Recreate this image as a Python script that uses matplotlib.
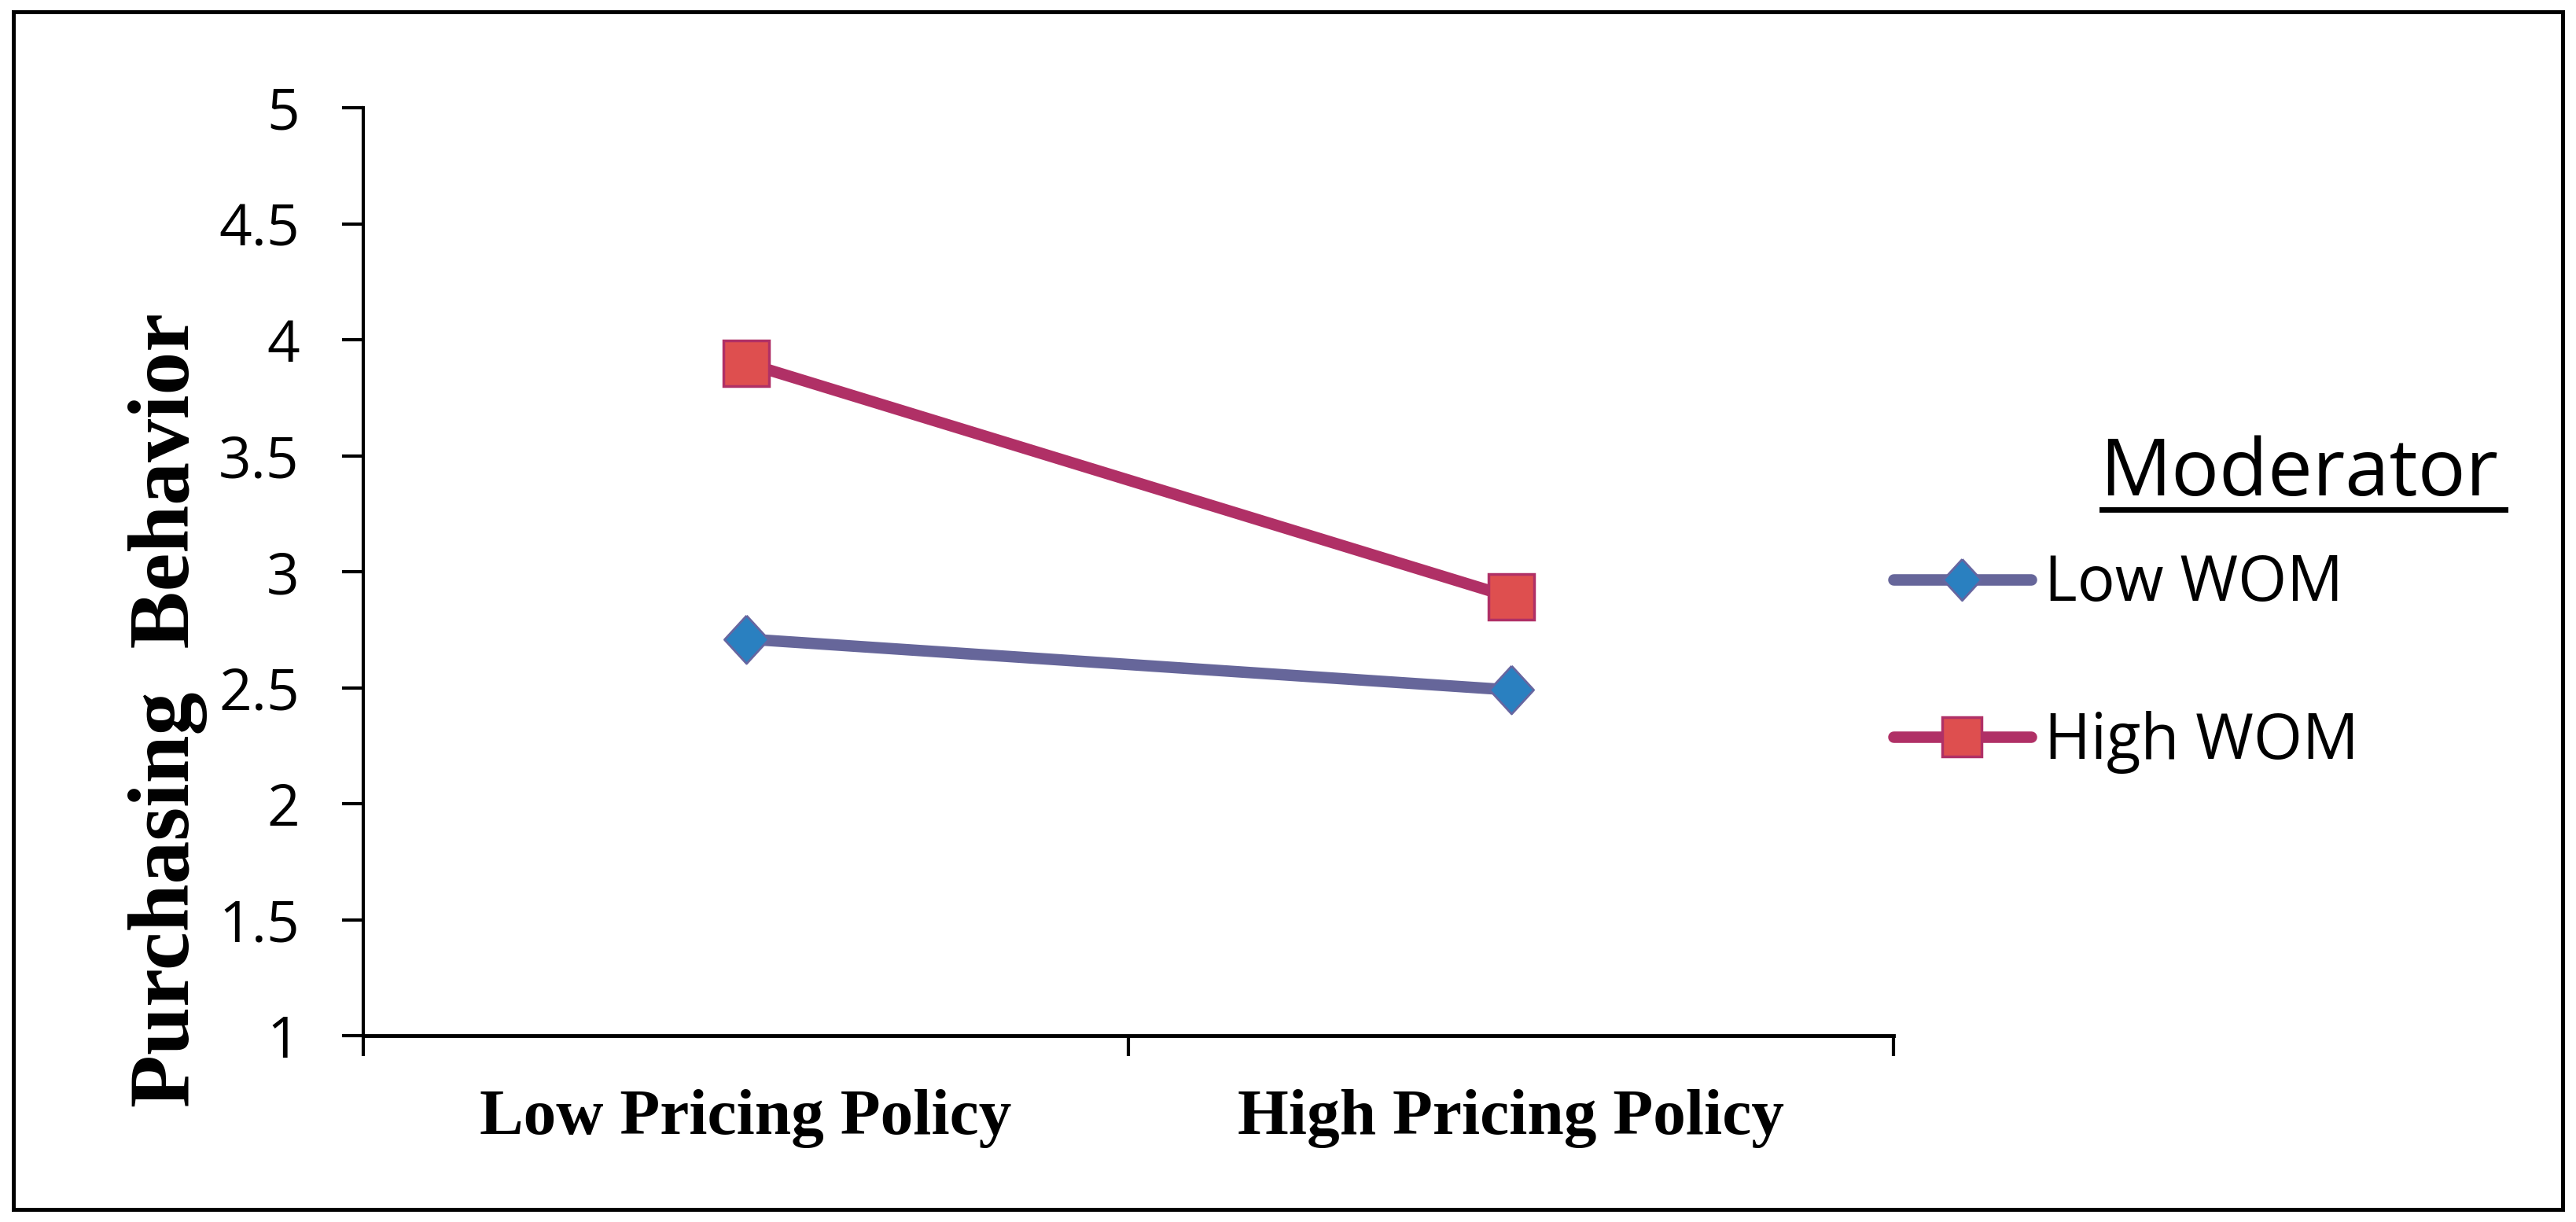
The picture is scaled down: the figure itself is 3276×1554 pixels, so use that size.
"""
Interaction plot: purchasing behavior by pricing policy, moderated by WOM.
"""

import matplotlib
matplotlib.use("Agg")
import matplotlib.pyplot as plt
from matplotlib.lines import Line2D
from matplotlib.patches import Rectangle

# data
categories = ["Low Pricing Policy", "High Pricing Policy"]
low_wom = [2.71, 2.49]
high_wom = [3.90, 2.89]
series_names = ["Low WOM", "High WOM"]
y_ticks = [1, 1.5, 2, 2.5, 3, 3.5, 4, 4.5, 5]
y_tick_labels = ["1", "1.5", "2", "2.5", "3", "3.5", "4", "4.5", "5"]

W, H = 3276, 1554
fig = plt.figure(figsize=(W / 100, H / 100), dpi=100)

# axes box in pixel terms (left, top, right, bottom)
L, T, R, B = 462, 137, 2408, 1317
ax = fig.add_axes([L / W, 1 - B / H, (R - L) / W, (B - T) / H])

xpos = [0.5, 1.5]
diamond = [(0, 1), (0.92, 0), (0, -1), (-0.92, 0), (0, 1)]

ax.plot(xpos, low_wom, color="#66669A", lw=10.5, solid_capstyle="round",
        marker=diamond, ms=44, mfc="#2A80C0", mec="#6666A0", mew=2,
        label=series_names[0], zorder=3)
ax.plot(xpos, high_wom, color="#B03066", lw=10.5, solid_capstyle="round",
        marker="s", ms=42, mfc="#DE4F4F", mec="#B03066", mew=2.5,
        label=series_names[1], zorder=3)

ax.set_xlim(0, 2)
ax.set_ylim(1, 5)

for s in ["top", "right"]:
    ax.spines[s].set_visible(False)
ax.spines["left"].set_linewidth(3)
ax.spines["bottom"].set_linewidth(3.5)

ax.set_yticks(y_ticks, y_tick_labels)
ax.tick_params(axis="y", direction="out", length=19.5, width=3, pad=39,
               labelsize=52.5)
for lab in ax.get_yticklabels():
    lab.set_fontfamily("Open Sans")

ax.set_xticks([0, 1, 2], ["", "", ""])
ax.tick_params(axis="x", which="major", direction="out", length=19, width=3)
ax.set_xticks(xpos, categories, minor=True)
ax.tick_params(axis="x", which="minor", length=0, pad=49, labelsize=60)
for lab in ax.get_xticklabels(minor=True):
    lab.set_fontfamily("Liberation Serif")
    lab.set_fontweight("bold")

fig.text(163 / W, 1 - 903 / H, "Purchasing  Behavior", rotation=90,
         ha="left", va="center", fontsize=79, family="Liberation Serif",
         weight="bold")

# legend
handles, labels = ax.get_legend_handles_labels()
leg = fig.legend(handles, labels, loc="upper left",
                 bbox_to_anchor=(2408 / W, 1 - 703 / H),
                 frameon=False, borderpad=0, borderaxespad=0,
                 handlelength=2.19, handletextpad=0.21, labelspacing=1.5,
                 markerscale=0.86, prop={"family": "Open Sans", "size": 57.5})

fig.text(2670 / W, 1 - 630 / H, "Moderator", ha="left", va="baseline",
         fontsize=73, family="Open Sans")
fig.add_artist(Line2D([2673 / W, 3186 / W], [1 - 648 / H, 1 - 648 / H],
                      color="black", lw=5))

# outer frame
fig.add_artist(Rectangle((17 / W, 1 - 1538 / H), (3259 - 17) / W,
                         (1538 - 15) / H, fill=False, ec="black", lw=3.6,
                         transform=fig.transFigure))

fig.savefig("out.png", dpi=100, facecolor="white")
